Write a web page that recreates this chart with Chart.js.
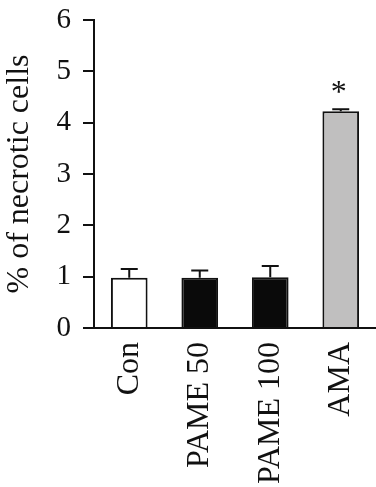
<!DOCTYPE html>
<html>
<head>
<meta charset="utf-8">
<script src="https://cdn.jsdelivr.net/npm/chart.js@4/dist/chart.umd.min.js"></script>
<style>
  html, body { margin: 0; padding: 0; background: #fff; overflow: hidden; }
  #wrap { width: 376px; height: 487px; }
</style>
</head>
<body>
<div id="wrap"><canvas id="myChart" width="376" height="487"></canvas></div>
<script>
const categories = ["Con", "PAME 50", "PAME 100", "AMA"];
const means = [0.98, 0.98, 0.99, 4.22];
const errors = [0.17, 0.14, 0.22, 0.04];
const marks = ["", "", "", "*"];
const barColors = ["#ffffff", "#0a0a0a", "#0a0a0a", "#c0bfbf"];
const yMin = 0;
const yMax = 6;
const yStep = 1;

const serif = "'Liberation Serif', 'Times New Roman', serif";

// error bars (upper only) and significance marks
const errorBarPlugin = {
  id: "errorBars",
  afterDatasetsDraw(chart) {
    const ctx = chart.ctx;
    const yScale = chart.scales.y;
    const meta = chart.getDatasetMeta(0);
    ctx.save();
    ctx.strokeStyle = "#111";
    ctx.lineWidth = 2;
    meta.data.forEach(function (bar, i) {
      const x = bar.x;
      const yTop = yScale.getPixelForValue(means[i]);
      const yErr = yScale.getPixelForValue(means[i] + errors[i]);
      ctx.beginPath();
      ctx.moveTo(x, yTop);
      ctx.lineTo(x, yErr);
      ctx.moveTo(x - 8.5, yErr);
      ctx.lineTo(x + 8.5, yErr);
      ctx.stroke();
      if (marks[i]) {
        ctx.fillStyle = "#111";
        ctx.font = "32px " + serif;
        ctx.textAlign = "center";
        ctx.textBaseline = "alphabetic";
        ctx.fillText(marks[i], x - 2, yErr - 7);
      }
    });
    ctx.restore();
  }
};

const barCtx = document.getElementById("myChart").getContext("2d");
const barChart = new Chart(barCtx, {
  type: "bar",
  data: {
    labels: categories,
    datasets: [{
      data: means,
      backgroundColor: barColors,
      borderColor: "#111",
      borderWidth: 2,
      borderSkipped: "bottom",
      barPercentage: 0.52,
      categoryPercentage: 1.0
    }]
  },
  options: {
    responsive: false,
    animation: false,
    layout: { padding: { top: 20, right: 0, bottom: 0, left: 0 } },
    plugins: {
      legend: { display: false },
      tooltip: { enabled: false }
    },
    scales: {
      x: {
        offset: true,
        grid: { display: true, drawOnChartArea: false, drawTicks: false },
        border: { display: true, color: "#111", width: 2 },
        ticks: {
          color: "#111",
          font: { family: serif, size: 32 },
          maxRotation: 90,
          minRotation: 90,
          autoSkip: false,
          padding: 14
        },
        afterFit: function (scale) {
          scale.height = 159;
          scale.paddingLeft = 0;
          scale.paddingRight = 0;
        }
      },
      y: {
        min: yMin,
        max: yMax,
        grid: {
          display: true,
          drawOnChartArea: false,
          drawTicks: true,
          tickLength: 11,
          color: "#111",
          lineWidth: 2
        },
        border: { display: true, color: "#111", width: 2 },
        ticks: {
          stepSize: yStep,
          color: "#111",
          font: { family: serif, size: 29 },
          padding: 12
        },
        title: {
          display: true,
          text: "% of necrotic cells",
          color: "#111",
          font: { family: serif, size: 32 },
          padding: { top: 0, bottom: 0 }
        },
        afterFit: function (scale) {
          scale.width = 94;
          scale.paddingTop = 0;
          scale.paddingBottom = 0;
        }
      }
    }
  },
  plugins: [errorBarPlugin]
});
</script>
</body>
</html>
